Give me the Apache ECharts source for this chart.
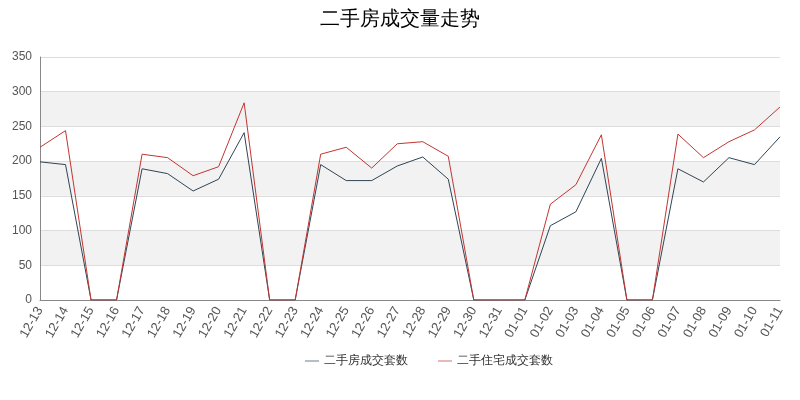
<!DOCTYPE html>
<html>
<head>
<meta charset="utf-8">
<script src="https://cdn.jsdelivr.net/npm/echarts@6/dist/echarts.min.js"></script>
<style>html,body{margin:0;padding:0;background:#fff}#c{width:800px;height:400px}</style>
</head>
<body>
<div id="c"></div>
<script>
var days = ['12-13', '12-14', '12-15', '12-16', '12-17', '12-18', '12-19', '12-20', '12-21', '12-22',
    '12-23', '12-24', '12-25', '12-26', '12-27', '12-28', '12-29', '12-30', '12-31', '01-01',
    '01-02', '01-03', '01-04', '01-05', '01-06', '01-07', '01-08', '01-09', '01-10', '01-11'];
var houseDeals = [199, 195, 0, 0, 189, 182, 157, 174, 241, 0,
    0, 195, 172, 172, 193, 206, 174, 0, 0, 0,
    107, 127, 204, 0, 0, 189, 170, 205, 195, 235];
var homeDeals = [220, 244, 0, 0, 210, 205, 179, 192, 284, 0,
    0, 210, 220, 190, 225, 228, 207, 0, 0, 0,
    138, 166, 238, 0, 0, 239, 205, 228, 245, 278];

var chart = echarts.init(document.getElementById('c'));
chart.setOption({
    animation: false,
    title: {
        text: '二手房成交量走势',
        left: 'center',
        top: 4,
        textStyle: {fontSize: 20, fontWeight: 'normal', color: '#000'}
    },
    legend: {
        bottom: 28,
        left: 300,
        icon: 'path://M0,5L20,5L20,6L0,6Z',
        itemWidth: 14,
        itemGap: 30,
        textStyle: {fontSize: 12, color: '#333'},
        data: ['二手房成交套数', '二手住宅成交套数']
    },
    grid: {left: 40, right: 20, top: 57, bottom: 100},
    xAxis: {
        type: 'category',
        boundaryGap: false,
        data: days,
        axisLine: {lineStyle: {color: '#888'}},
        axisTick: {show: false},
        axisLabel: {rotate: 60, fontSize: 13, color: '#555', interval: 0}
    },
    yAxis: {
        type: 'value',
        min: 0,
        max: 350,
        interval: 50,
        axisLine: {show: true, lineStyle: {color: '#888'}},
        axisTick: {show: false},
        axisLabel: {fontSize: 12, color: '#555'},
        splitLine: {lineStyle: {color: '#ddd'}},
        splitArea: {show: true, areaStyle: {color: ['#fff', '#f2f2f2']}}
    },
    series: [{
        name: '二手房成交套数',
        type: 'line',
        data: houseDeals,
        symbol: 'none',
        color: '#2f4554',
        lineStyle: {width: 1}
    }, {
        name: '二手住宅成交套数',
        type: 'line',
        data: homeDeals,
        symbol: 'none',
        color: '#c23531',
        lineStyle: {width: 1}
    }]
});
</script>
</body>
</html>
